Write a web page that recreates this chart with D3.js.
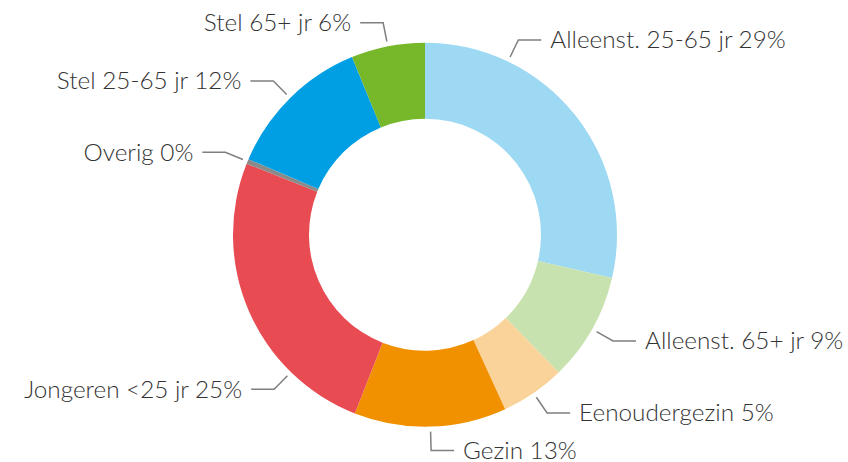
<!DOCTYPE html>
<html>
<head>
<meta charset="utf-8">
<script src="https://cdn.jsdelivr.net/npm/d3@7"></script>
<style>
  body { margin: 0; background: #fff; }
  .label { font-family: Lato, "Open Sans", sans-serif; font-weight: 300; font-size: 24.3px; fill: #333; }
  .leader { fill: none; stroke: #7f7f7f; stroke-width: 1.5; }
</style>
</head>
<body>
<div id="chart"></div>
<script>
const categories = [
  "Alleenst. 25-65 jr", "Alleenst. 65+ jr", "Eenoudergezin", "Gezin",
  "Jongeren <25 jr", "Overig", "Stel 25-65 jr", "Stel 65+ jr"
];
const shares = [28.6, 9.1, 5.4, 12.8, 25.05, 0.4, 12.35, 6.2];
const percentLabels = [29, 9, 5, 13, 25, 0, 12, 6];
const sliceColors = [
  "#9dd9f3", "#c8e2af", "#f9d39a", "#f29100",
  "#e94b53", "#8a8a8a", "#009fe3", "#76b82a"
];
// label leader angle (degrees from top) where it differs from slice middle
const labelAngleOverride = [25.6, null, null, null, 224.3, null, null, null];

const width = 848,
  height = 462,
  cx = 425,
  cy = 234.7,
  outerR = 192,
  innerR = 116,
  leadStart = 197,
  leadElbow = 216,
  leadFlat = 23,
  textGap = 9;

const data = categories.map((c, i) => ({
  name: c,
  value: shares[i],
  pct: percentLabels[i],
  color: sliceColors[i],
  labelAngle: labelAngleOverride[i]
}));

const pie = d3.pie().sort(null).value(d => d.value);
const arc = d3.arc().innerRadius(innerR).outerRadius(outerR);

const svg = d3.select("#chart")
  .append("svg")
  .attr("width", width)
  .attr("height", height);

const g = svg.append("g").attr("transform", `translate(${cx},${cy})`);

const arcs = pie(data);

g.selectAll(".slice")
  .data(arcs)
  .join("path")
  .attr("class", "slice")
  .attr("d", arc)
  .attr("fill", d => d.data.color);

function polar(angle, r) {
  return [Math.sin(angle) * r, -Math.cos(angle) * r];
}

const labels = arcs.map(d => {
  const a = d.data.labelAngle != null
    ? d.data.labelAngle * Math.PI / 180
    : (d.startAngle + d.endAngle) / 2;
  const right = a < Math.PI;
  const p0 = polar(a, leadStart);
  const p1 = polar(a, leadElbow);
  const p2 = [p1[0] + (right ? leadFlat : -leadFlat), p1[1]];
  return {
    text: d.data.name + " " + d.data.pct + "%",
    pts: [p0, p1, p2],
    right: right
  };
});

g.selectAll(".leader")
  .data(labels)
  .join("polyline")
  .attr("class", "leader")
  .attr("points", d => d.pts.map(p => p.join(",")).join(" "));

g.selectAll(".label")
  .data(labels)
  .join("text")
  .attr("class", "label")
  .attr("x", d => d.pts[2][0] + (d.right ? textGap : -textGap))
  .attr("y", d => d.pts[2][1])
  .attr("dy", "0.35em")
  .attr("text-anchor", d => d.right ? "start" : "end")
  .text(d => d.text);
</script>
</body>
</html>
